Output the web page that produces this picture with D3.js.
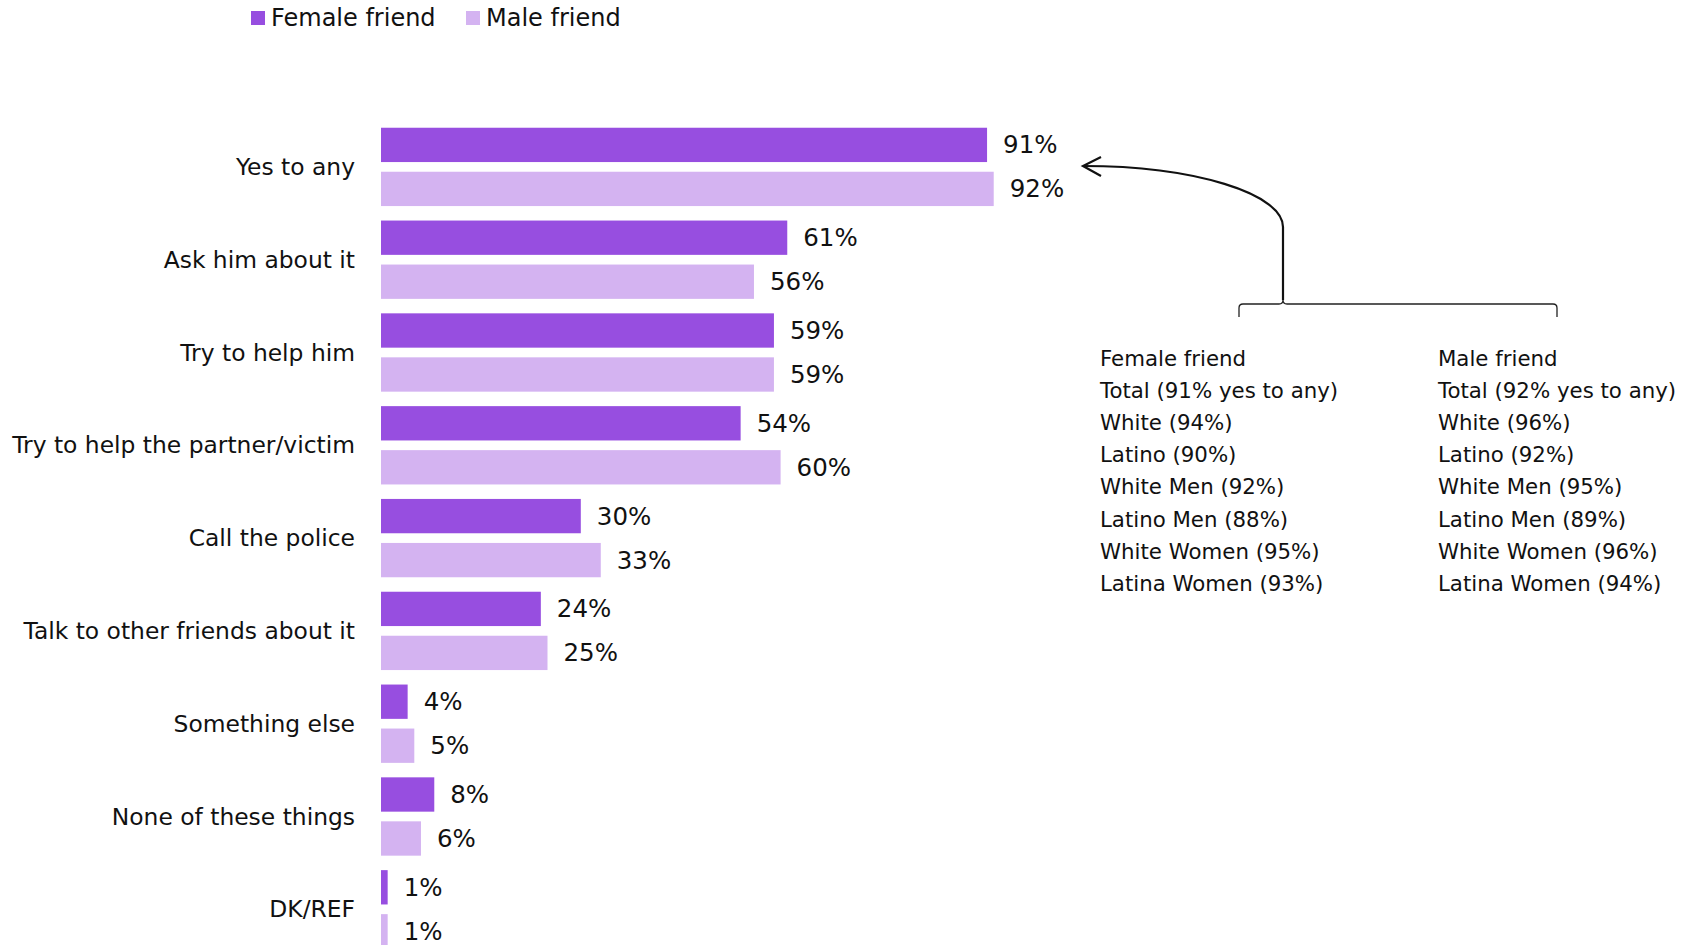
<!DOCTYPE html>
<html>
<head>
<meta charset="utf-8">
<script src="https://cdn.jsdelivr.net/npm/d3@7"></script>
<style>
  body { margin: 0; background: #fff; }
  svg text { font-family: "DejaVu Sans", sans-serif; fill: #111; }
</style>
</head>
<body>
<div id="chart"></div>
<script>
// Chart data
const categories = ["Yes to any", "Ask him about it", "Try to help him", "Try to help the partner/victim",
    "Call the police", "Talk to other friends about it", "Something else", "None of these things", "DK/REF"];
const femaleValues = [91, 61, 59, 54, 30, 24, 4, 8, 1];
const maleValues = [92, 56, 59, 60, 33, 25, 5, 6, 1];
const seriesNames = ["Female friend", "Male friend"];
const colors = ["#974ee0", "#d4b3f1"];

// Breakdown text on the right
const femaleBreakdown = ["Female friend", "Total (91% yes to any)", "White (94%)", "Latino (90%)",
    "White Men (92%)", "Latino Men (88%)", "White Women (95%)", "Latina Women (93%)"];
const maleBreakdown = ["Male friend", "Total (92% yes to any)", "White (96%)", "Latino (92%)",
    "White Men (95%)", "Latino Men (89%)", "White Women (96%)", "Latina Women (94%)"];

const width = 1682, height = 945;

const svg = d3.select("#chart")
    .append("svg")
    .attr("width", width)
    .attr("height", height);

// Scales
const x = d3.scaleLinear().domain([0, 100]).range([381, 1047]);

const y = d3.scaleBand()
    .domain(categories)
    .range([120.5, 955.7])
    .paddingInner(0.156)
    .paddingOuter(0.078);

const ySub = d3.scaleBand()
    .domain(seriesNames)
    .range([0, y.bandwidth()])
    .paddingInner(0.22);

const rows = categories.map((c, i) => ({
    cat: c,
    vals: [
        {name: seriesNames[0], v: femaleValues[i], color: colors[0]},
        {name: seriesNames[1], v: maleValues[i], color: colors[1]}
    ]
}));

// Category labels
svg.append("g")
    .selectAll("text")
    .data(categories)
    .enter()
    .append("text")
    .attr("x", 355)
    .attr("y", d => y(d) + y.bandwidth() / 2)
    .attr("text-anchor", "end")
    .attr("dominant-baseline", "central")
    .style("font-size", "23.4px")
    .text(d => d);

// Bars
const groups = svg.append("g")
    .selectAll("g")
    .data(rows)
    .enter()
    .append("g")
    .attr("transform", d => `translate(0,${y(d.cat)})`);

groups.selectAll("rect")
    .data(d => d.vals)
    .enter()
    .append("rect")
    .attr("x", x(0))
    .attr("y", d => ySub(d.name))
    .attr("width", d => x(d.v) - x(0))
    .attr("height", ySub.bandwidth())
    .attr("fill", d => d.color);

// Value labels
groups.selectAll("text")
    .data(d => d.vals)
    .enter()
    .append("text")
    .attr("x", d => x(d.v) + 16)
    .attr("y", d => ySub(d.name) + ySub.bandwidth() / 2)
    .attr("dominant-baseline", "central")
    .style("font-size", "24.5px")
    .text(d => d.v + "%");

// Legend
const legendX = [251, 466];
const legend = svg.append("g")
    .selectAll("g")
    .data(seriesNames)
    .enter()
    .append("g")
    .attr("transform", (d, i) => `translate(${legendX[i]},11)`);

legend.append("rect")
    .attr("width", 14)
    .attr("height", 14)
    .attr("fill", (d, i) => colors[i]);

legend.append("text")
    .attr("x", 20)
    .attr("y", 7)
    .attr("dominant-baseline", "central")
    .style("font-size", "24px")
    .text(d => d);

// Breakdown columns
[[femaleBreakdown, 1100], [maleBreakdown, 1438]].forEach(([lines, cx]) => {
    svg.append("g")
        .selectAll("text")
        .data(lines)
        .enter()
        .append("text")
        .attr("x", cx)
        .attr("y", (d, i) => 358 + i * 32.2)
        .attr("dominant-baseline", "central")
        .style("font-size", "21.3px")
        .text(d => d);
});

// Bracket over the breakdown
svg.append("path")
    .attr("d", "M1239,317 L1239,308 Q1239,304 1243,304 L1279,304 Q1283,304 1283,300 Q1283,304 1287,304 L1553,304 Q1557,304 1557,308 L1557,317")
    .attr("fill", "none")
    .attr("stroke", "#222")
    .attr("stroke-width", 1.3);

// Curved arrow pointing back at "Yes to any"
const tipX = 1083, tipY = 166;
svg.append("path")
    .attr("d", `M1283,300 L1283,227 A200,61 0 0,0 ${tipX},${tipY}`)
    .attr("fill", "none")
    .attr("stroke", "#111")
    .attr("stroke-width", 2.2);

svg.append("path")
    .attr("d", `M${tipX + 18},${tipY - 9} L${tipX},${tipY} L${tipX + 18},${tipY + 10}`)
    .attr("fill", "none")
    .attr("stroke", "#111")
    .attr("stroke-width", 2.2);
</script>
</body>
</html>
